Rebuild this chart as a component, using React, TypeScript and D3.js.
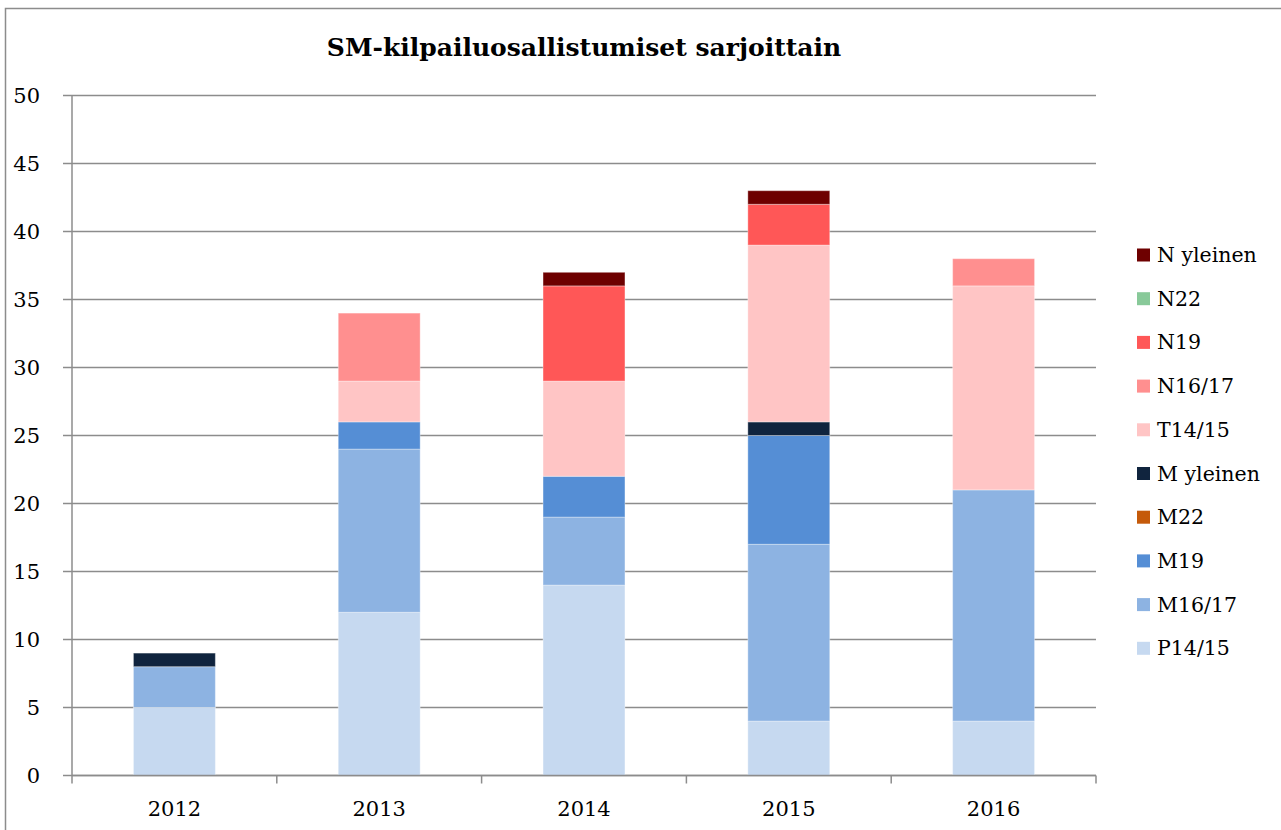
import { useEffect, useRef } from 'react'
import * as d3 from 'd3'

const YEARS = ['2012', '2013', '2014', '2015', '2016']

// series in stacking order (bottom to top)
const SERIES = ['P14/15', 'M16/17', 'M19', 'M22', 'M yleinen', 'T14/15', 'N16/17', 'N19', 'N22', 'N yleinen']
const COLORS = ['#c6d9f0', '#8db3e2', '#558ed5', '#c55a0a', '#10243e', '#ffc5c5', '#ff8f8f', '#ff5757', '#88c999', '#6e0000']

const P1415 = [5, 12, 14, 4, 4]
const M1617 = [3, 12, 5, 13, 17]
const M19 = [0, 2, 3, 8, 0]
const M22 = [0, 0, 0, 0, 0]
const MYLEINEN = [1, 0, 0, 1, 0]
const T1415 = [0, 3, 7, 13, 15]
const N1617 = [0, 5, 0, 0, 2]
const N19 = [0, 0, 7, 3, 0]
const N22 = [0, 0, 0, 0, 0]
const NYLEINEN = [0, 0, 1, 1, 0]

const Y_TICKS = [0, 5, 10, 15, 20, 25, 30, 35, 40, 45, 50]

const TITLE = 'SM-kilpailuosallistumiset sarjoittain'
const FONT = '"DejaVu Serif", serif'
const GRID = '#8c8c8c'

export default function App() {
  const svgRef = useRef<SVGSVGElement>(null)

  useEffect(() => {
    if (!svgRef.current) return
    const W = 1281
    const H = 830
    const margin = { top: 95.5, right: 185, bottom: 54.5, left: 72 }
    const w = W - margin.left - margin.right
    const h = H - margin.top - margin.bottom

    const values = [P1415, M1617, M19, M22, MYLEINEN, T1415, N1617, N19, N22, NYLEINEN]
    const rows = YEARS.map((yr, i) => {
      const r: Record<string, any> = { year: yr }
      SERIES.forEach((s, k) => { r[s] = values[k][i] })
      return r
    })
    const stacked = d3.stack().keys(SERIES)(rows as any)

    const svg = d3.select(svgRef.current)
    svg.selectAll('*').remove()

    // outer frame
    svg.append('rect')
      .attr('x', 5.5).attr('y', 8.5).attr('width', W + 20).attr('height', H + 20)
      .attr('fill', 'none').attr('stroke', '#8c8c8c').attr('stroke-width', 1.5)

    svg.append('text')
      .attr('x', margin.left + w / 2).attr('y', 56)
      .attr('text-anchor', 'middle')
      .attr('font-family', FONT).attr('font-weight', 'bold').attr('font-size', 25)
      .attr('fill', '#000')
      .text(TITLE)

    const g = svg.append('g').attr('transform', `translate(${margin.left},${margin.top})`)

    const x = d3.scaleBand().domain(YEARS).range([0, w]).paddingInner(0.6).paddingOuter(0.3)
    const y = d3.scaleLinear().domain([0, 50]).range([h, 0])
    const step = x.step()

    // gridlines + y ticks
    g.append('g')
      .selectAll('line')
      .data(Y_TICKS)
      .enter().append('line')
      .attr('x1', -9).attr('x2', w)
      .attr('y1', d => y(d)).attr('y2', d => y(d))
      .attr('stroke', GRID).attr('stroke-width', 1.5)

    g.append('g')
      .selectAll('text')
      .data(Y_TICKS)
      .enter().append('text')
      .attr('x', -32).attr('y', d => y(d))
      .attr('text-anchor', 'end').attr('dominant-baseline', 'central')
      .attr('font-family', FONT).attr('font-size', 21).attr('fill', '#000')
      .text(d => d)

    // bars
    stacked.forEach((layer, k) => {
      g.append('g')
        .selectAll('rect')
        .data(layer.filter(d => d[1] - d[0] > 0))
        .enter().append('rect')
        .attr('x', d => x((d.data as any).year)!)
        .attr('y', d => y(d[1]))
        .attr('width', x.bandwidth())
        .attr('height', d => y(d[0]) - y(d[1]))
        .attr('fill', COLORS[k])
        .attr('stroke', 'rgba(255,255,255,0.35)').attr('stroke-width', 1)
    })

    // axes lines
    g.append('line')
      .attr('x1', 0).attr('x2', 0).attr('y1', 0).attr('y2', h)
      .attr('stroke', GRID).attr('stroke-width', 1.5)
    g.append('line')
      .attr('x1', 0).attr('x2', w).attr('y1', h).attr('y2', h)
      .attr('stroke', GRID).attr('stroke-width', 1.5)
    g.append('g')
      .selectAll('line')
      .data(d3.range(YEARS.length + 1))
      .enter().append('line')
      .attr('x1', i => i * step).attr('x2', i => i * step)
      .attr('y1', h).attr('y2', h + 8)
      .attr('stroke', GRID).attr('stroke-width', 1.5)

    g.append('g')
      .selectAll('text')
      .data(YEARS)
      .enter().append('text')
      .attr('x', d => x(d)! + x.bandwidth() / 2).attr('y', h + 40)
      .attr('text-anchor', 'middle')
      .attr('font-family', FONT).attr('font-size', 21).attr('fill', '#000')
      .text(d => d)

    // legend, top to bottom = reverse of stacking
    const legend = svg.append('g').attr('transform', 'translate(1137,255)')
    const items = SERIES.map((s, k) => ({ s, c: COLORS[k] })).reverse()
    const lg = legend.selectAll('g')
      .data(items)
      .enter().append('g')
      .attr('transform', (_, i) => `translate(0,${i * 43.7})`)
    lg.append('rect')
      .attr('x', 0).attr('y', -6.5).attr('width', 13).attr('height', 13)
      .attr('fill', d => d.c)
    lg.append('text')
      .attr('x', 20).attr('y', 0)
      .attr('dominant-baseline', 'central')
      .attr('font-family', FONT).attr('font-size', 20.5).attr('fill', '#000')
      .text(d => d.s)
  }, [])

  return (
    <svg ref={svgRef} width={1281} height={830}
      style={{ position: 'absolute', left: 0, top: 0, display: 'block', background: '#fff' }} />
  )
}
